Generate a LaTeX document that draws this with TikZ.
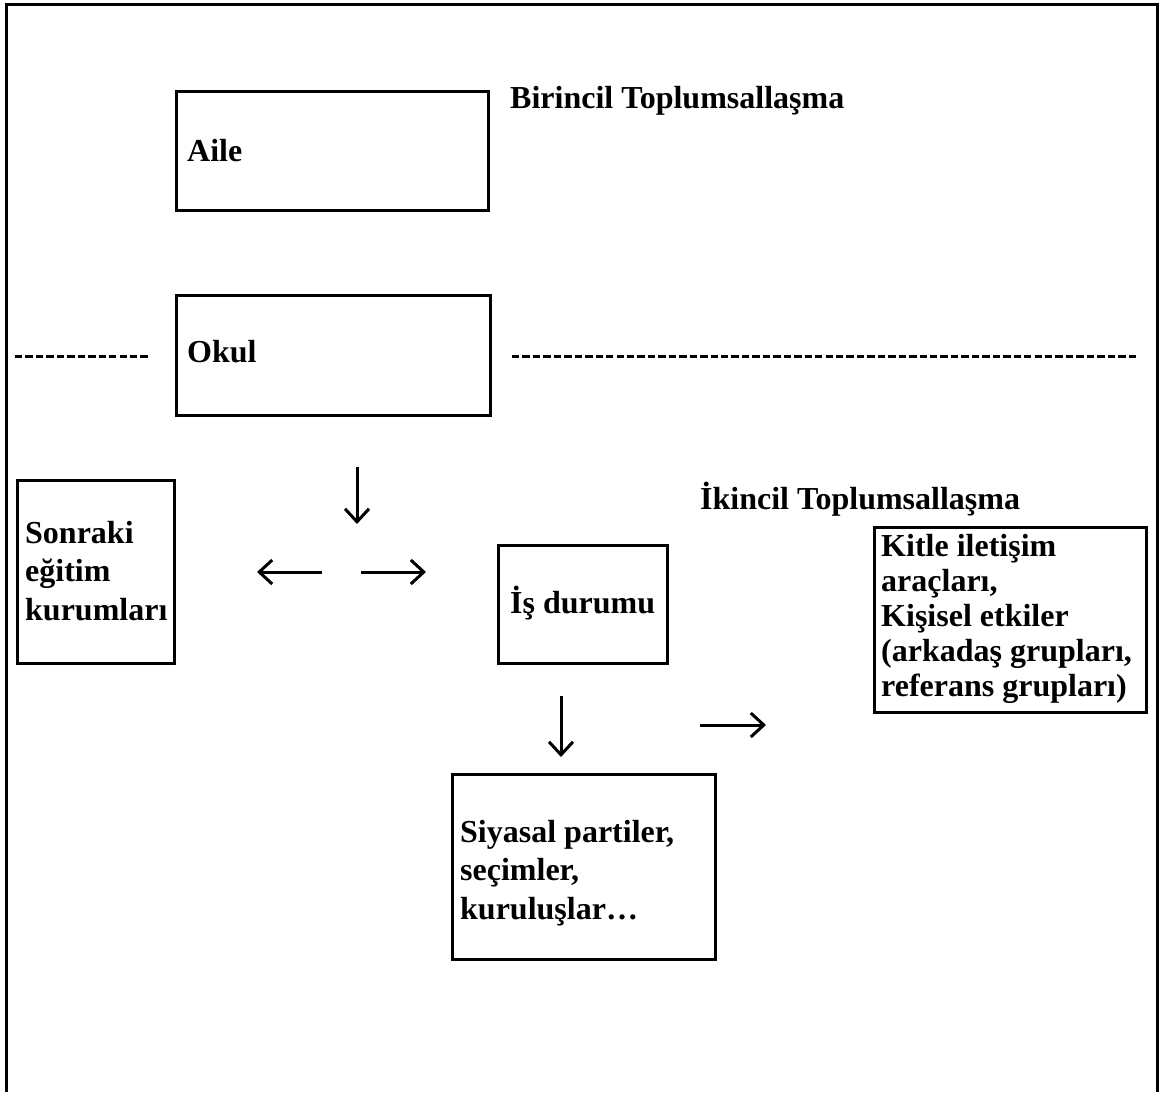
\documentclass[tikz,border=0pt]{standalone}
\usepackage{fontspec}
\setmainfont{Liberation Serif}
\usetikzlibrary{arrows.meta}
\begin{document}
\begin{tikzpicture}[x=1pt,y=-1pt,
  box/.style={draw,line width=2.8pt,inner sep=0pt,anchor=north west},
  lbl/.style={anchor=base west,inner sep=0pt,align=left,font=\fontsize{32}{38.5}\selectfont\bfseries},
  tight/.style={font=\fontsize{32}{35}\selectfont\bfseries},
  garrow/.style={line width=3pt,-{Straight Barb[length=13pt,width=24pt,line width=3pt]}},
  dashline/.style={line width=3pt,dash pattern=on 7.4pt off 3.05pt}]
\useasboundingbox (0,0) rectangle (1161,1092);
% outer frame, open at bottom
\draw[line width=3pt] (6,1092) -- (6,4) -- (1157,4) -- (1157,1092);
% boxes
\node[box,minimum width=312pt,minimum height=119pt] (aileb) at (175,90) {};
\node[box,minimum width=314pt,minimum height=120pt] (okulb) at (175,294) {};
\node[box,minimum width=157pt,minimum height=183pt] (sonb) at (16,479) {};
\node[box,minimum width=169pt,minimum height=118pt] (isb) at (497,544) {};
\node[box,minimum width=272pt,minimum height=185pt] (kitb) at (873,526) {};
\node[box,minimum width=263pt,minimum height=185pt] (siyb) at (451,773) {};
% texts
\node[lbl] (aile) at (187,161) {Aile};
\node[lbl] (birincil) at (510,108) {Birincil Toplumsallaşma};
\node[lbl] (okul) at (187,362) {Okul};
\node[lbl] (sonraki) at (25,620) {Sonraki\\eğitim\\kurumları};
\node[lbl] (ikincil) at (700,509) {İkincil Toplumsallaşma};
\node[lbl] (isdur) at (510,613) {İş durumu};
\node[lbl,tight] (kitle) at (881,696) {Kitle iletişim\\araçları,\\Kişisel etkiler\\(arkadaş grupları,\\referans grupları)};
\node[lbl] (siyasal) at (460,919) {Siyasal partiler,\\seçimler,\\kuruluşlar…};
% dashed separators
\coordinate (dl1) at (15,356);
\coordinate (dl2) at (148,356);
\coordinate (dr1) at (512,356);
\coordinate (dr2) at (1136,356);
\draw[dashline] (dl1) -- (dl2);
\draw[dashline] (dr1) -- (dr2);
% arrows
\coordinate (a1s) at (357,467);
\coordinate (a1e) at (357,524);
\coordinate (a2s) at (322,572);
\coordinate (a2e) at (257,572);
\coordinate (a3s) at (361,572);
\coordinate (a3e) at (426,572);
\coordinate (a4s) at (561,696);
\coordinate (a4e) at (561,757);
\coordinate (a5s) at (700,725);
\coordinate (a5e) at (766,725);
\draw[garrow] (a1s) -- (a1e);
\draw[garrow] (a2s) -- (a2e);
\draw[garrow] (a3s) -- (a3e);
\draw[garrow] (a4s) -- (a4e);
\draw[garrow] (a5s) -- (a5e);
\end{tikzpicture}
\end{document}
